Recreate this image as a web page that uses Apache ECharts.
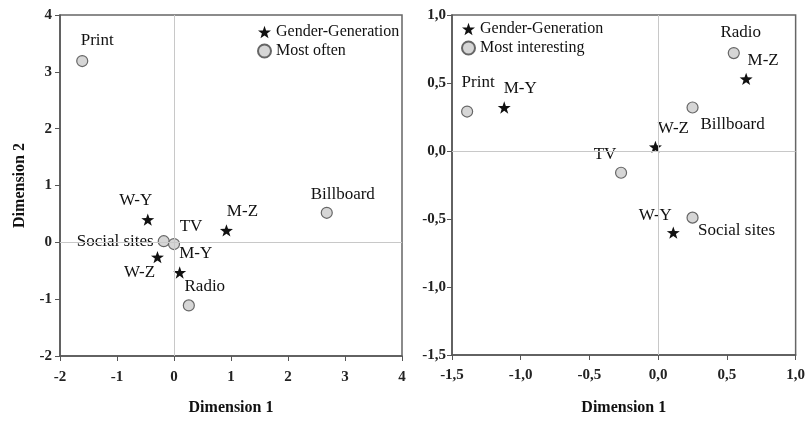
<!DOCTYPE html>
<html>
<head>
<meta charset="utf-8">
<script src="https://cdn.jsdelivr.net/npm/echarts@6/dist/echarts.min.js"></script>
<style>
  html, body { margin: 0; padding: 0; background: #fff; }
  #chart { width: 808px; height: 421px; }
</style>
</head>
<body>
<div id="chart"></div>
<script>
// left panel: most often
var leftGenNames = ['W-Y', 'M-Z', 'W-Z', 'M-Y'];
var leftGenX = [-0.46, 0.92, -0.29, 0.10];
var leftGenY = [0.40, 0.21, -0.26, -0.53];
var leftMediaNames = ['Print', 'Social sites', 'TV', 'Radio', 'Billboard'];
var leftMediaX = [-1.61, -0.18, 0.0, 0.26, 2.68];
var leftMediaY = [3.19, 0.02, -0.03, -1.11, 0.52];

// right panel: most interesting
var rightGenNames = ['M-Y', 'M-Z', 'W-Z', 'W-Y'];
var rightGenX = [-1.12, 0.64, -0.02, 0.11];
var rightGenY = [0.32, 0.53, 0.03, -0.60];
var rightMediaNames = ['Print', 'Radio', 'Billboard', 'TV', 'Social sites'];
var rightMediaX = [-1.39, 0.55, 0.25, -0.27, 0.25];
var rightMediaY = [0.29, 0.72, 0.32, -0.16, -0.49];

// label placement (style only)
var labelPos = {
  left: {
    'W-Y': ['top', [-12, 0]], 'M-Z': ['top', [16, 0]], 'W-Z': ['bottom', [-18, -3]], 'M-Y': ['top', [16, 0]],
    'Print': ['top', [15, -2]], 'Social sites': ['left', [0, 0]], 'TV': ['top', [17, 1]],
    'Radio': ['top', [16, 0]], 'Billboard': ['top', [16, 0]]
  },
  right: {
    'M-Y': ['top', [16, 0]], 'M-Z': ['top', [17, 0]], 'W-Z': ['top', [18, 0]], 'W-Y': ['top', [-18, 2]],
    'Print': ['top', [11, -10]], 'Radio': ['top', [7, -2]], 'Billboard': ['bottom', [40, -2]],
    'TV': ['top', [-16, 0]], 'Social sites': ['bottom', [44, -6]]
  }
};

var STAR = 'path://M0,-10L2.35,-3.24L9.51,-3.09L3.8,1.24L5.88,8.09L0,4L-5.88,8.09L-3.8,1.24L-9.51,-3.09L-2.35,-3.24Z';
var FONT = '"Liberation Serif", "Times New Roman", serif';

function points(names, xs, ys, side) {
  return names.map(function (n, i) {
    var p = labelPos[side][n];
    return {
      name: n,
      value: [xs[i], ys[i]],
      label: { position: p[0], offset: p[1] }
    };
  });
}

var labelStyle = { show: true, formatter: '{b}', color: '#111', fontFamily: FONT, fontSize: 17, distance: 4 };

function axis(gridIndex, min, max, step, fmt, name, gap, margin) {
  return {
    gridIndex: gridIndex, min: min, max: max, interval: step,
    name: name, nameLocation: 'middle', nameGap: gap,
    nameTextStyle: { fontFamily: FONT, fontSize: 16, fontWeight: 'bold', color: '#111' },
    axisLine: { show: true, onZero: false, lineStyle: { color: '#555', width: 1.5 } },
    axisTick: { show: true, length: 5, lineStyle: { color: '#555' } },
    axisLabel: { fontFamily: FONT, fontSize: 15, fontWeight: 'bold', color: '#222', formatter: fmt, margin: margin },
    splitLine: { show: false }
  };
}

function comma(v) { return v.toFixed(1).replace('.', ','); }
function plain(v) { return String(v); }

var zeroLines = {
  silent: true, symbol: 'none', label: { show: false },
  lineStyle: { color: '#c8c8c8', type: 'solid', width: 1 },
  data: [{ xAxis: 0 }, { yAxis: 0 }]
};

var circleStyle = { color: '#d6d6d6', borderColor: '#666', borderWidth: 1.2, opacity: 1 };
var starStyle = { color: '#111', opacity: 1 };

var myChart = echarts.init(document.getElementById('chart'));
var option = {
  backgroundColor: '#fff',
  animation: false,
  grid: [
    { left: 60, top: 15, width: 342, height: 342, show: true, borderColor: '#666', borderWidth: 1.5 },
    { left: 452, top: 15, width: 346, height: 346, show: true, borderColor: '#666', borderWidth: 1.5 }
  ],
  xAxis: [
    axis(0, -2, 4, 1, plain, 'Dimension 1', 44, 14),
    axis(1, -1.5, 1.0, 0.5, comma, 'Dimension 1', 45, 13)
  ],
  yAxis: [
    axis(0, -2, 4, 1, plain, 'Dimension 2', 32, 8),
    axis(1, -1.5, 1.0, 0.5, comma, '', 30, 6)
  ],
  legend: [
    {
      data: ['Gender-Generation', 'Most often'], left: 252, top: 19, orient: 'vertical',
      itemWidth: 13, itemHeight: 13, itemGap: 3,
      textStyle: { fontFamily: FONT, fontSize: 16, color: '#111' }
    },
    {
      data: ['Gender-Generation', 'Most interesting'], left: 456, top: 16, orient: 'vertical',
      itemWidth: 13, itemHeight: 13, itemGap: 3,
      textStyle: { fontFamily: FONT, fontSize: 16, color: '#111' }
    }
  ],
  series: [
    {
      name: 'Most often', type: 'scatter', xAxisIndex: 0, yAxisIndex: 0,
      symbol: 'circle', symbolSize: 11,
      itemStyle: circleStyle,
      label: labelStyle,
      markLine: zeroLines,
      data: points(leftMediaNames, leftMediaX, leftMediaY, 'left')
    },
    {
      name: 'Gender-Generation', type: 'scatter', xAxisIndex: 0, yAxisIndex: 0,
      symbol: STAR, symbolSize: 13, symbolKeepAspect: true,
      itemStyle: starStyle,
      label: labelStyle,
      data: points(leftGenNames, leftGenX, leftGenY, 'left')
    },
    {
      name: 'Most interesting', type: 'scatter', xAxisIndex: 1, yAxisIndex: 1,
      symbol: 'circle', symbolSize: 11,
      itemStyle: circleStyle,
      label: labelStyle,
      markLine: zeroLines,
      data: points(rightMediaNames, rightMediaX, rightMediaY, 'right')
    },
    {
      name: 'Gender-Generation', type: 'scatter', xAxisIndex: 1, yAxisIndex: 1,
      symbol: STAR, symbolSize: 13, symbolKeepAspect: true,
      itemStyle: starStyle,
      label: labelStyle,
      data: points(rightGenNames, rightGenX, rightGenY, 'right')
    }
  ]
};
myChart.setOption(option);
</script>
</body>
</html>
